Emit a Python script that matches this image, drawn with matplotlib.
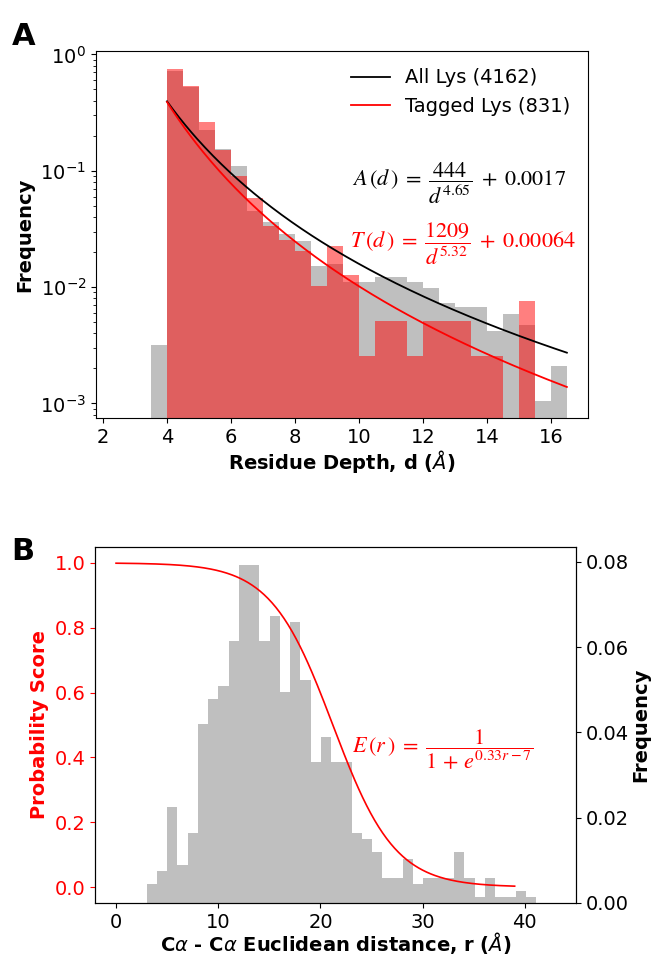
import numpy as np
import matplotlib
matplotlib.use("Agg")
import matplotlib.pyplot as plt

# ---- panel A : residue depth histograms (density, bin width 0.5) ----
depth_edges = np.arange(3.5, 16.51, 0.5)
all_lys = [0.00318, 0.715, 0.525, 0.224, 0.153, 0.110, 0.045, 0.036, 0.0285,
           0.0248, 0.0151, 0.0157, 0.0111, 0.0111, 0.0121, 0.0121, 0.0111,
           0.0099, 0.0073, 0.0068, 0.0068, 0.0042, 0.00586, 0.0047, 0.00105,
           0.0021]
tagged_lys = [0, 0.75, 0.53, 0.26, 0.150, 0.090, 0.058, 0.0334, 0.0253,
              0.0204, 0.0103, 0.0226, 0.0127, 0.00257, 0.0051, 0.0051,
              0.00257, 0.0051, 0.0051, 0.0051, 0.00257, 0.00257, 0, 0.0076,
              0, 0]
# fitted power-law curves as drawn (value at d=4, exponent)
all_fit = (0.395, 3.51)
tag_fit = (0.39, 3.98)

# ---- panel B : Ca-Ca distance histogram + probability score ----
dist_edges = np.linspace(3.0, 41.1, 39)
dist_freq = [0.00435, 0.00745, 0.0225, 0.0090, 0.0164, 0.0420, 0.0479,
             0.0509, 0.0614, 0.0793, 0.0793, 0.0614, 0.0673, 0.0494, 0.0659,
             0.0524, 0.0330, 0.0389, 0.0330, 0.0330, 0.0164, 0.0150, 0.0120,
             0.0059, 0.0059, 0.0104, 0.0045, 0.0059, 0.0059, 0.0059, 0.0120,
             0.0059, 0.0014, 0.0059, 0.0014, 0.0014, 0.0029, 0.0014]
e_slope, e_offset = 0.33, 7.0

fig = plt.figure(figsize=(6.52, 9.55), dpi=100)
axA = fig.add_axes([0.1472, 0.5623, 0.7546, 0.3843])
axB = fig.add_axes([0.1457, 0.0545, 0.7377, 0.3727])

# panel A
w = np.diff(depth_edges)
axA.bar(depth_edges[:-1], all_lys, width=w, align='edge', color='grey',
        alpha=0.5, linewidth=0)
axA.bar(depth_edges[:-1], tagged_lys, width=w, align='edge', color='red',
        alpha=0.5, linewidth=0)
d = np.linspace(4, 16.5, 200)
axA.plot(d, all_fit[0] * (4 / d) ** all_fit[1], color='k', lw=1.3,
         label="All Lys (4162)")
axA.plot(d, tag_fit[0] * (4 / d) ** tag_fit[1], color='r', lw=1.3,
         label="Tagged Lys (831)")
axA.set_yscale('log')
axA.set_xlim(1.78, 17.16)
axA.set_ylim(7.5e-4, 1.07)
axA.set_xticks([2, 4, 6, 8, 10, 12, 14, 16])
axA.tick_params(labelsize=14)
axA.set_xlabel(r"Residue Depth, d ($\AA$)", fontsize=14, fontweight='bold',
               labelpad=1)
axA.set_ylabel("Frequency", fontsize=14, fontweight='bold')
axA.legend(loc='upper right', frameon=False, fontsize=14)
axA.text(0.737, 0.638, r"$A\,(d\,)\;=\;\dfrac{444}{d^{4.65}}\;+\;0.0017$",
         transform=axA.transAxes, ha='center', va='center', fontsize=16,
         math_fontfamily='stix', color='k')
axA.text(0.745, 0.474, r"$T\,(d\,)\;=\;\dfrac{1209}{d^{5.32}}\;+\;0.00064$",
         transform=axA.transAxes, ha='center', va='center', fontsize=16,
         math_fontfamily='stix', color='r')
fig.text(0.018, 0.962, "A", fontsize=22, fontweight='bold', va='center')

# panel B
axB2 = axB.twinx()
axB2.bar(dist_edges[:-1], dist_freq, width=np.diff(dist_edges), align='edge',
         color='grey', alpha=0.5, linewidth=0)
r = np.linspace(0, 39, 300)
axB.plot(r, 1 / (1 + np.exp(e_slope * r - e_offset)), color='r', lw=1.2)
axB.set_zorder(axB2.get_zorder() + 1)
axB.patch.set_visible(False)
axB.set_xlim(-2.06, 45.0)
axB.set_ylim(-0.049, 1.049)
axB2.set_ylim(0, 0.0835)
axB.set_xticks([0, 10, 20, 30, 40])
axB.set_yticks([0, 0.2, 0.4, 0.6, 0.8, 1.0])
axB2.set_yticks([0, 0.02, 0.04, 0.06, 0.08])
axB.tick_params(labelsize=14)
axB.tick_params(axis='y', colors='red', labelsize=14)
axB2.tick_params(labelsize=14)
axB.set_xlabel(r"C$\alpha$ - C$\alpha$ Euclidean distance, r ($\AA$)",
               fontsize=14, fontweight='bold', labelpad=-1)
axB.set_ylabel("Probability Score", fontsize=14, fontweight='bold', color='red')
axB2.set_ylabel("Frequency", fontsize=14, fontweight='bold', labelpad=2)
axB.text(0.723, 0.43, r"$E\,(r\,)\;=\;\dfrac{1}{1\,+\,e^{0.33r-7}}$",
         transform=axB.transAxes, ha='center', va='center', fontsize=16,
         math_fontfamily='stix', color='r')
fig.text(0.018, 0.422, "B", fontsize=22, fontweight='bold', va='center')

fig.savefig("out.png", dpi=100)
